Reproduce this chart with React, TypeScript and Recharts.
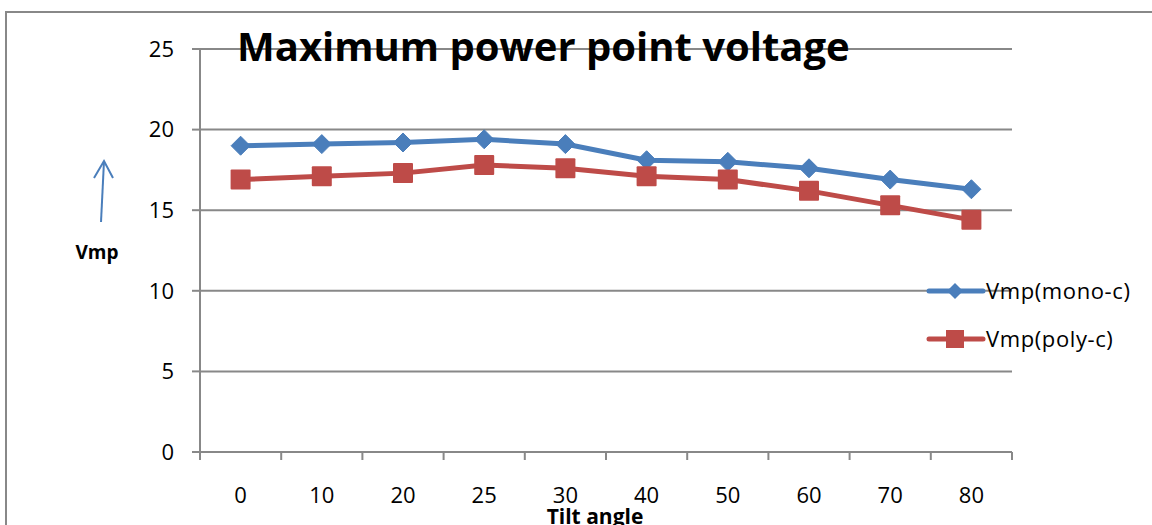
import React from "react";
import { LineChart, Line, XAxis, YAxis, CartesianGrid } from "recharts";

const angles = ["0", "10", "20", "25", "30", "40", "50", "60", "70", "80"];
const vmpMono = [19.0, 19.1, 19.2, 19.4, 19.1, 18.1, 18.0, 17.6, 16.9, 16.3];
const vmpPoly = [16.9, 17.1, 17.3, 17.8, 17.6, 17.1, 16.9, 16.2, 15.3, 14.4];
const yTicks = [0, 5, 10, 15, 20, 25];

const data = angles.map((a, i) => ({ angle: a, mono: vmpMono[i], poly: vmpPoly[i] }));

const BLUE = "#4A7EBB";
const RED = "#BE4B48";
const GRID = "#888888";
const FONT = "'Open Sans', 'Noto Sans', sans-serif";

const W = 1152;
const H = 525;
const M = { top: 49, right: 140, bottom: 0, left: 0 };
const X_AXIS_H = 73;
const Y_AXIS_W = 200;
const plotW = W - Y_AXIS_W - M.right;
const band = plotW / angles.length;

const Diamond = (props: any) => {
  const { cx, cy } = props;
  if (cx == null || cy == null) return null;
  const r = 9.5;
  return (
    <path
      d={`M${cx},${cy - r}L${cx + r},${cy}L${cx},${cy + r}L${cx - r},${cy}Z`}
      fill={BLUE}
      stroke={BLUE}
    />
  );
};

const Square = (props: any) => {
  const { cx, cy } = props;
  if (cx == null || cy == null) return null;
  const s = 10;
  return <rect x={cx - s} y={cy - s} width={2 * s} height={2 * s} fill={RED} rx={1} />;
};

// category labels sit in the middle, tick marks on the category boundaries (Excel style)
const XTick = (props: any) => {
  const { x, y, payload, index } = props;
  const left = x - band / 2;
  return (
    <g>
      <line x1={left} x2={left} y1={y - 8} y2={y} stroke={GRID} strokeWidth={2} />
      {index === angles.length - 1 && (
        <line x1={x + band / 2} x2={x + band / 2} y1={y - 8} y2={y} stroke={GRID} strokeWidth={2} />
      )}
      <text x={x} y={y + 43} textAnchor="middle" fontSize={22} fill="#000" fontFamily={FONT}>
        {payload.value}
      </text>
    </g>
  );
};

const legendItems = [
  { name: "Vmp(mono-c)", color: BLUE, kind: "d" },
  { name: "Vmp(poly-c)", color: RED, kind: "s" },
];

const LegendBox = () => (
  <svg width={230} height={100} style={{ position: "absolute", left: 926, top: 281, overflow: "visible" }}>
    {legendItems.map((it, i) => {
      const y = 10 + i * 48;
      return (
        <g key={it.name}>
          <line x1={3} x2={57} y1={y} y2={y} stroke={it.color} strokeWidth={5} strokeLinecap="round" />
          {it.kind === "d" ? (
            <path d={`M29,${y - 8}L37,${y}L29,${y + 8}L21,${y}Z`} fill={it.color} />
          ) : (
            <rect x={20} y={y - 9} width={18} height={18} fill={it.color} />
          )}
          <text x={60} y={y + 8} fontSize={22} letterSpacing={0.6} fontFamily={FONT} fill="#000">
            {it.name}
          </text>
        </g>
      );
    })}
  </svg>
);

export default function App() {
  return (
    <div style={{ position: "absolute", left: 0, top: 0, width: W, height: H, background: "#fff", overflow: "hidden" }}>
      <svg width={W} height={H} style={{ position: "absolute", left: 0, top: 0 }}>
        <rect x={6} y={12} width={W + 20} height={H + 20} fill="none" stroke={GRID} strokeWidth={2} />
      </svg>
      <div style={{ position: "absolute", left: 0, top: 0 }}>
        <LineChart width={W} height={H} data={data} margin={M}>
          <CartesianGrid vertical={false} stroke={GRID} strokeWidth={2} />
          <XAxis
            dataKey="angle"
            scale="band"
            tick={<XTick />}
            tickLine={false}
            axisLine={{ stroke: GRID, strokeWidth: 2 }}
            height={X_AXIS_H}
            interval={0}
          />
          <YAxis
            domain={[0, 25]}
            ticks={yTicks}
            width={Y_AXIS_W}
            tickSize={8}
            tickMargin={18}
            tickLine={{ stroke: GRID, strokeWidth: 2 }}
            axisLine={{ stroke: GRID, strokeWidth: 2 }}
            tick={{ fill: "#000", fontSize: 22, fontFamily: FONT }}
          />
          <Line
            dataKey="mono"
            name="Vmp(mono-c)"
            stroke={BLUE}
            strokeWidth={5}
            dot={<Diamond />}
            isAnimationActive={false}
          />
          <Line
            dataKey="poly"
            name="Vmp(poly-c)"
            stroke={RED}
            strokeWidth={5}
            dot={<Square />}
            isAnimationActive={false}
          />
        </LineChart>
      </div>
      <LegendBox />
      <div
        style={{
          position: "absolute",
          left: 237,
          top: 21,
          fontFamily: FONT,
          fontWeight: 700,
          fontSize: 40,
          color: "#000",
          whiteSpace: "nowrap",
          lineHeight: "50px",
        }}
      >
        Maximum power point voltage
      </div>
      <svg width={60} height={80} style={{ position: "absolute", left: 70, top: 155 }}>
        <line x1={31} y1={67} x2={34} y2={6} stroke={BLUE} strokeWidth={2} />
        <polyline points="24,23 34,6 43,23" fill="none" stroke={BLUE} strokeWidth={2} />
      </svg>
      <div
        style={{
          position: "absolute",
          left: 62,
          top: 239,
          width: 70,
          textAlign: "center",
          fontFamily: FONT,
          fontWeight: 700,
          fontSize: 19,
          color: "#000",
        }}
      >
        Vmp
      </div>
      <div
        style={{
          position: "absolute",
          left: 495,
          top: 502,
          width: 200,
          textAlign: "center",
          fontFamily: FONT,
          fontWeight: 700,
          fontSize: 21,
          color: "#000",
          lineHeight: "28px",
        }}
      >
        Tilt angle
      </div>
    </div>
  );
}
